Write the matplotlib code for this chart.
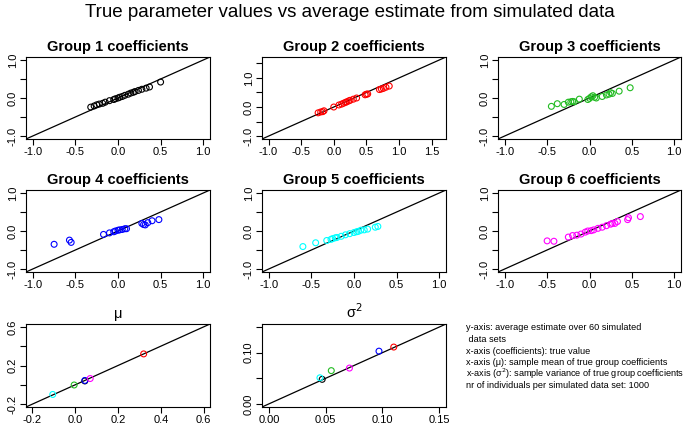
import matplotlib
matplotlib.use("Agg")
import matplotlib.pyplot as plt
import numpy as np

plt.rcParams['font.family'] = ['Liberation Sans', 'DejaVu Sans']

colors = ["black", "red", "#22bb22", "blue", "cyan", "magenta"]

# true value (x) vs average estimate (y) per group
g1_x = [-0.32, -0.28, -0.25, -0.22, -0.18, -0.15, -0.1, -0.05, -0.03, 0.0, 0.02, 0.05, 0.08, 0.12, 0.15, 0.18, 0.2, 0.24, 0.28, 0.33, 0.37, 0.5]
g1_y = [-0.24, -0.21, -0.18, -0.16, -0.14, -0.11, -0.07, -0.04, -0.02, 0.0, 0.02, 0.04, 0.07, 0.1, 0.13, 0.15, 0.17, 0.2, 0.23, 0.26, 0.29, 0.42]
g2_x = [-0.24, -0.2, -0.17, -0.15, 0.0, 0.08, 0.12, 0.15, 0.18, 0.2, 0.23, 0.25, 0.3, 0.35, 0.48, 0.5, 0.52, 0.7, 0.73, 0.76, 0.8, 0.85]
g2_y = [-0.2, -0.17, -0.16, -0.13, 0.0, 0.07, 0.1, 0.13, 0.16, 0.18, 0.21, 0.23, 0.27, 0.31, 0.42, 0.44, 0.45, 0.6, 0.62, 0.64, 0.68, 0.72]
g3_x = [-0.45, -0.38, -0.3, -0.25, -0.22, -0.2, -0.18, -0.12, -0.02, 0.0, 0.02, 0.04, 0.06, 0.08, 0.15, 0.2, 0.23, 0.25, 0.27, 0.35, 0.48]
g3_y = [-0.22, -0.15, -0.17, -0.11, -0.1, -0.09, -0.1, -0.03, -0.04, -0.01, 0.03, 0.06, 0.02, 0.0, 0.04, 0.08, 0.1, 0.14, 0.12, 0.18, 0.27]
g4_x = [-0.75, -0.57, -0.55, -0.17, -0.1, -0.05, -0.03, 0.0, 0.02, 0.05, 0.08, 0.1, 0.28, 0.3, 0.32, 0.35, 0.4, 0.48]
g4_y = [-0.35, -0.24, -0.3, -0.09, -0.05, -0.02, 0.0, 0.02, 0.03, 0.04, 0.06, 0.06, 0.2, 0.17, 0.16, 0.22, 0.27, 0.3]
g5_x = [-0.6, -0.45, -0.32, -0.27, -0.25, -0.22, -0.2, -0.15, -0.1, -0.05, 0.0, 0.03, 0.05, 0.08, 0.12, 0.16, 0.25, 0.28]
g5_y = [-0.41, -0.31, -0.25, -0.22, -0.2, -0.18, -0.17, -0.14, -0.1, -0.07, -0.04, -0.02, -0.01, 0.02, 0.03, 0.05, 0.1, 0.12]
g6_x = [-0.5, -0.42, -0.25, -0.2, -0.15, -0.1, -0.05, -0.02, 0.02, 0.05, 0.1, 0.15, 0.2, 0.25, 0.27, 0.3, 0.33, 0.45, 0.46, 0.6]
g6_y = [-0.26, -0.27, -0.16, -0.12, -0.11, -0.08, -0.03, 0.0, 0.01, 0.03, 0.07, 0.1, 0.14, 0.18, 0.2, 0.2, 0.25, 0.3, 0.35, 0.38]
groups = [(g1_x, g1_y), (g2_x, g2_y), (g3_x, g3_y), (g4_x, g4_y), (g5_x, g5_y), (g6_x, g6_y)]

mu_x = [0.045, 0.32, -0.005, 0.045, -0.105, 0.07]
mu_y = [0.04, 0.32, -0.002, 0.045, -0.1, 0.065]
sig_x = [0.047, 0.11, 0.055, 0.097, 0.045, 0.071]
sig_y = [0.048, 0.111, 0.065, 0.103, 0.051, 0.07]

fig = plt.figure(figsize=(7, 4.32), dpi=100)
W, H = 700, 432


def px_axes(l, t, r, b):
    return fig.add_axes([l / W, 1 - b / H, (r - l) / W, (b - t) / H])


def rstyle(ax, xlim, ylim, xt, xl, yt, yl):
    ax.set_xlim(xlim)
    ax.set_ylim(ylim)
    ax.set_xticks(xt)
    ax.set_xticklabels(xl, fontsize=8)
    ax.set_yticks(yt)
    ax.set_yticklabels(yl, fontsize=8, rotation=90, va="center")
    ax.tick_params(length=4, width=0.8, pad=2)
    for s in ax.spines.values():
        s.set_linewidth(0.8)
    ax.plot([-5, 5], [-5, 5], color="black", lw=0.9)


def half_labels(ticks):
    return ["%.1f" % t if abs(t * 2) % 2 < 1e-9 else "" for t in ticks]


cols = [(26, 210), (262, 446), (498, 681)]
rows = [(57, 139), (190, 272)]
std = [-1, -0.5, 0, 0.5, 1]
for i, (gx, gy) in enumerate(groups):
    l, r = cols[i % 3]
    t, b = rows[i // 3]
    ax = px_axes(l, t, r, b)
    ax.scatter(gx, gy, s=18, facecolors="none", edgecolors=colors[i], linewidths=0.8, zorder=3)
    if i == 1:
        rstyle(ax, (-1.1, 1.72), (-1.1, 1.72), [-1, -0.5, 0, 0.5, 1, 1.5],
               ["-1.0", "-0.5", "0.0", "0.5", "1.0", "1.5"],
               [-1, -0.5, 0, 0.5, 1, 1.5], half_labels([-1, -0.5, 0, 0.5, 1, 1.5]))
    else:
        rstyle(ax, (-1.08, 1.08), (-1.08, 1.08), std,
               ["-1.0", "-0.5", "0.0", "0.5", "1.0"], std, half_labels(std))
    ax.set_title("Group %d coefficients" % (i + 1), fontsize=10.5, fontweight="bold", pad=4)

ax = px_axes(26, 324, 210, 407)
ax.scatter(mu_x, mu_y, s=18, facecolors="none", edgecolors=colors, linewidths=0.8, zorder=3)
rstyle(ax, (-0.23, 0.63), (-0.23, 0.63), [-0.2, 0, 0.2, 0.4, 0.6],
       ["-0.2", "0.0", "0.2", "0.4", "0.6"], [-0.2, 0, 0.2, 0.4, 0.6],
       ["-0.2", "", "0.2", "", "0.6"])
ax.set_title("μ", fontsize=10.5, pad=4)

ax = px_axes(262, 324, 446, 407)
ax.scatter(sig_x, sig_y, s=18, facecolors="none", edgecolors=colors, linewidths=0.8, zorder=3)
rstyle(ax, (-0.006, 0.156), (-0.006, 0.156), [0, 0.05, 0.1, 0.15],
       ["0.00", "0.05", "0.10", "0.15"], [0, 0.05, 0.1, 0.15],
       ["0.00", "", "0.10", ""])
ax.set_title("σ$^2$", fontsize=10.5, pad=4)

notes = ["y-axis: average estimate over 60 simulated",
         " data sets",
         "x-axis (coefficients): true value",
         "x-axis (μ): sample mean of true group coefficients",
         "x-axis (σ$^2$): sample variance of true group coefficients",
         "nr of individuals per simulated data set: 1000"]
for k, s in enumerate(notes):
    fig.text(466 / W, 1 - (328 + k * 11.5) / H, s, fontsize=6.6, va="center")

fig.suptitle("True parameter values vs average estimate from simulated data", fontsize=13.5, y=0.99)
fig.savefig("out.png", dpi=100)
